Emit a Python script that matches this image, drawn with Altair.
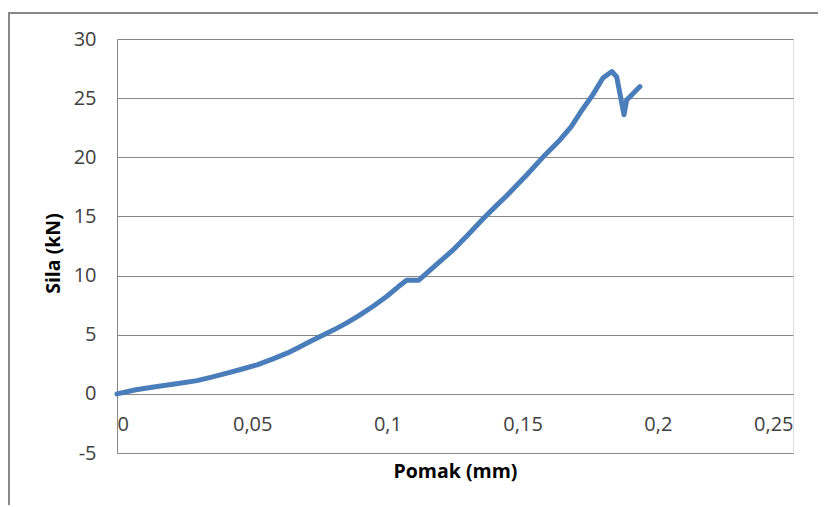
import altair as alt
import pandas as pd

pomak = [0, 0.007, 0.0148, 0.022, 0.0296, 0.035, 0.0407, 0.046, 0.0518, 0.057,
         0.0629, 0.067, 0.0714, 0.0802, 0.085, 0.0899, 0.095, 0.0997, 0.104,
         0.1071, 0.1115, 0.118, 0.1243, 0.13, 0.1354, 0.14, 0.1441, 0.1515,
         0.1583, 0.1638, 0.168, 0.172, 0.176, 0.1797, 0.183, 0.1848, 0.1875,
         0.1885, 0.1934]
sila = [0, 0.35, 0.62, 0.85, 1.12, 1.42, 1.75, 2.08, 2.45, 2.9,
        3.44, 3.9, 4.42, 5.41, 6.0, 6.68, 7.45, 8.23, 9.05,
        9.6, 9.6, 10.9, 12.17, 13.5, 14.8, 15.85, 16.75, 18.5,
        20.2, 21.47, 22.6, 24.0, 25.3, 26.7, 27.25, 26.8, 23.6,
        24.85, 25.98]

df = pd.DataFrame({"x": pomak, "y": sila, "o": list(range(len(pomak)))})

FONT = "Open Sans"
W, H = 676, 414

line = alt.Chart(df).mark_line(color="#4A7EBB", strokeWidth=5, strokeJoin="round",
                               strokeCap="round").encode(
    x=alt.X("x:Q", scale=alt.Scale(domain=[0, 0.25], nice=False),
            axis=alt.Axis(title="Pomak (mm)", values=[0, 0.05, 0.1, 0.15, 0.2, 0.25],
                          labelExpr="replace(format(datum.value, '.2~f'), '.', ',')",
                          offset=-59, grid=False, ticks=False, domain=False,
                          labelPadding=30, labelBaseline="middle",
                          labelFontSize=20, labelColor="#404040", labelFont=FONT,
                          titleFont=FONT, titleFontSize=19.5, titleFontWeight="bold", titleColor="#000000",
                          titleBaseline="middle", titleY=77)),
    y=alt.Y("y:Q", scale=alt.Scale(domain=[-5, 30], nice=False),
            axis=alt.Axis(title="Sila (kN)", values=[-5, 0, 5, 10, 15, 20, 25, 30],
                          labelExpr="'' + datum.value",
                          grid=True, gridColor="#868686", gridWidth=1, ticks=False,
                          domain=True, domainColor="#868686", domainWidth=1,
                          labelPadding=21, labelFontSize=20, labelColor="#404040", labelFont=FONT,
                          titleFont=FONT, titleFontSize=19.5, titleFontWeight="bold", titleColor="#000000",
                          titleX=-64, titleY=214, titleBaseline="middle", titleAngle=-90)),
    order="o:Q",
)

frame_left = alt.Chart(df).mark_rule(color="#888888", strokeWidth=2).encode(
    x=alt.value(-108), y=alt.value(-26), y2=alt.value(470))
frame_top = alt.Chart(df).mark_rule(color="#888888", strokeWidth=2).encode(
    x=alt.value(-109), x2=alt.value(720), y=alt.value(-26))

chart = alt.layer(frame_left, frame_top, line).properties(
    width=W, height=H,
    padding={"left": 109, "top": 31, "right": 25, "bottom": 52},
    autosize=alt.AutoSizeParams(type="none"),
).configure_view(stroke=None).configure(background="white")

chart.save("out.html", embed_options={"renderer": "svg", "actions": False})
